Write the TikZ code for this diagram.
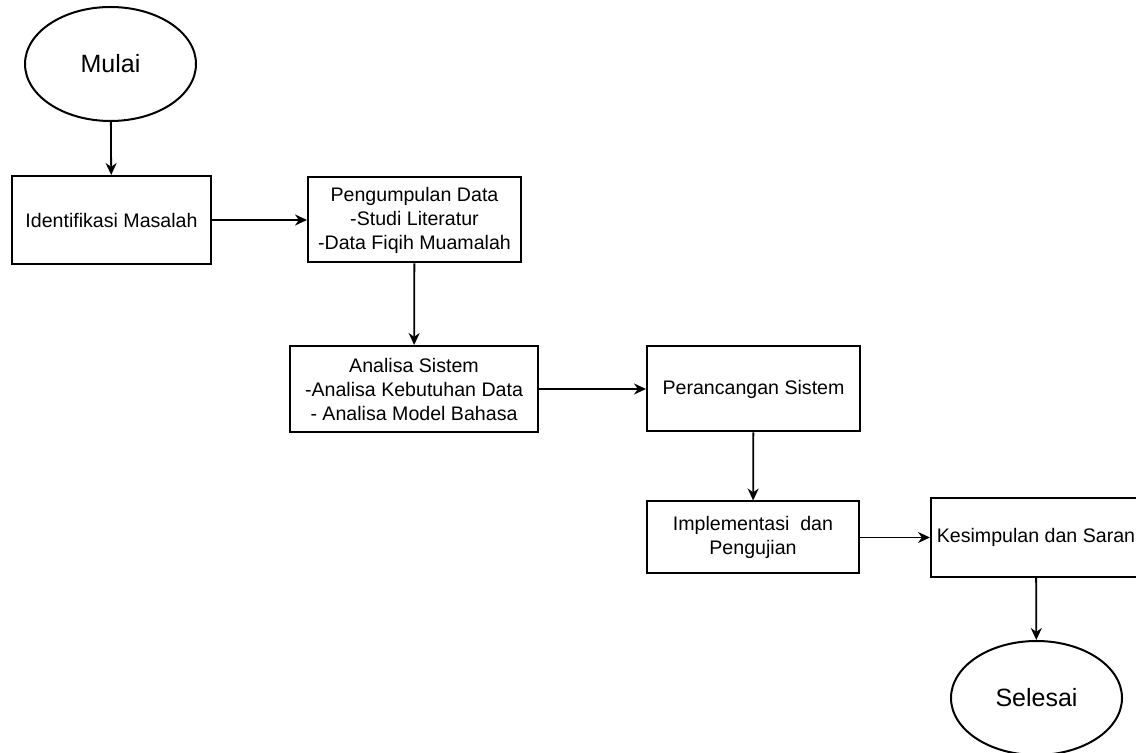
\documentclass[tikz,border=0pt]{standalone}
\usepackage{fontspec}
\setmainfont{Liberation Sans}
\usetikzlibrary{shapes.geometric,arrows.meta}
\tikzset{
  kotak/.style={draw,line width=1pt,align=center,inner sep=0pt,font=\fontsize{9.8}{12}\selectfont},
  oval/.style={draw,ellipse,line width=1pt,inner sep=0pt,minimum width=85.5pt,minimum height=57pt,font=\fontsize{12.5}{15}\selectfont},
  panah/.style={line width=0.9pt,-{Stealth[length=6pt,width=5.5pt]}}
}
\begin{document}
\begin{tikzpicture}[x=0.5pt,y=-0.5pt]
    \useasboundingbox (0,0) rectangle (1136,753);
    \clip (0,0) rectangle (1136,753);
    % start and first steps
    \node[oval] (mulai) at (110.5,64) {Mulai};
    \node[kotak,minimum width=99.5pt,minimum height=44pt] (identifikasi) at (111.5,220) {Identifikasi Masalah};
    \node[kotak,minimum width=106.5pt,minimum height=42.5pt] (pengumpulan) at (414.5,220) {Pengumpulan Data\\-Studi Literatur\\-Data Fiqih Muamalah};
    \node[kotak,minimum width=124pt,minimum height=43pt] (analisa) at (414,389) {Analisa Sistem\\-Analisa Kebutuhan Data\\- Analisa Model Bahasa};
    \node[kotak,minimum width=106.5pt,minimum height=42.5pt] (perancangan) at (753.5,389) {Perancangan Sistem};
    \node[kotak,minimum width=106pt,minimum height=36pt] (implementasi) at (753,537.5) {Implementasi~ dan\\Pengujian};
    \node[kotak,minimum width=105pt,minimum height=39.5pt] (kesimpulan) at (1036,537.5) {Kesimpulan dan Saran};
    \node[oval] (selesai) at (1036.5,698) {Selesai};
    % connectors
    \draw[panah] (mulai) -- (identifikasi);
    \draw[panah] (identifikasi) -- (pengumpulan);
    \draw[panah] (pengumpulan) -- (analisa);
    \draw[panah] (analisa) -- (perancangan);
    \draw[panah] (perancangan) -- (implementasi);
    \draw[panah] (implementasi) -- (kesimpulan);
    \draw[panah] (kesimpulan) -- (selesai);
\end{tikzpicture}
\end{document}
